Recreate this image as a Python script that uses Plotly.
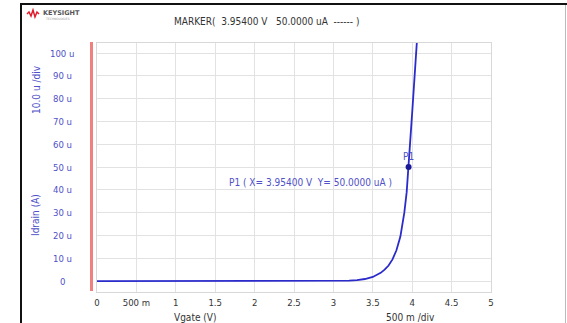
import plotly.graph_objects as go

# ---- data ----
vgate = [0, 0.5, 1.0, 1.5, 2.0, 2.5, 3.0, 3.1, 3.2, 3.3, 3.4, 3.5, 3.6, 3.65, 3.7,
         3.75, 3.8, 3.85, 3.9, 3.93, 3.954, 4.0, 4.05, 4.1]
idrain_u = [0, 0, 0, 0, 0, 0, 0, 0.05, 0.15, 0.4, 0.9, 1.8, 3.6, 5.0, 6.8,
            9.5, 13.5, 19.5, 30, 39, 50, 74, 100, 126]
marker_x = [3.954]
marker_y = [50]
x_ticks = [0, 0.5, 1, 1.5, 2, 2.5, 3, 3.5, 4, 4.5, 5]
x_tick_labels = ["0", "500 m", "1", "1.5", "2", "2.5", "3", "3.5", "4", "4.5", "5"]
y_ticks = [0, 10, 20, 30, 40, 50, 60, 70, 80, 90, 100]
y_tick_labels = ["0", "10 u", "20 u", "30 u", "40 u", "50 u", "60 u", "70 u", "80 u", "90 u", "100 u"]

W, H = 567, 323
ML, MR, MT, MB = 97, 76, 43, 31
PW, PH = W - ML - MR, H - MT - MB


def px(x):
    return (x - ML) / PW


def py(y):
    return (H - MB - y) / PH


FONT = "Liberation Sans Narrow, Arial Narrow, DejaVu Sans Condensed, sans-serif"
BLUE = "#5050c8"
LINE = "#2b2bcc"
GRAY = "#333333"

fig = go.Figure()
fig.add_trace(go.Scatter(x=vgate, y=idrain_u, mode="lines",
                         line=dict(color=LINE, width=1.8), hoverinfo="skip",
                         showlegend=False))
fig.add_trace(go.Scatter(x=marker_x, y=marker_y, mode="markers",
                         marker=dict(color="#1a1a99", size=6), showlegend=False))

fig.update_layout(
    width=W, height=H,
    margin=dict(l=ML, r=MR, t=MT, b=MB),
    paper_bgcolor="white", plot_bgcolor="white",
    font=dict(family=FONT, size=10, color=GRAY),
    xaxis=dict(range=[0, 5], tickvals=x_ticks, ticktext=x_tick_labels,
               showgrid=True, gridcolor="#e2e2e2", gridwidth=1,
               zeroline=False, showline=True, linecolor="#d8d8d8", mirror=True,
               ticks="", tickfont=dict(family=FONT, size=9.5, color=GRAY),
               ticklabelstandoff=2),
    yaxis=dict(range=[-4.8, 104.4], tickvals=y_ticks, showticklabels=False,
               showgrid=True, gridcolor="#e2e2e2", gridwidth=1,
               zeroline=False, showline=True, linecolor="#d8d8d8", mirror=True,
               ticks=""),
)

shapes = [
    # red vertical bar left of plot
    dict(type="line", xref="paper", yref="paper", x0=px(91.5), x1=px(91.5),
         y0=py(291), y1=py(42), line=dict(color="#f08080", width=3)),
    # outer frame
    dict(type="line", xref="paper", yref="paper", x0=px(20), x1=px(567),
         y0=py(4), y1=py(4), line=dict(color="#111111", width=2)),
    dict(type="line", xref="paper", yref="paper", x0=px(21), x1=px(21),
         y0=py(4), y1=py(323), line=dict(color="#111111", width=2)),
    dict(type="line", xref="paper", yref="paper", x0=px(565.5), x1=px(565.5),
         y0=py(5), y1=py(323), line=dict(color="#bbbbbb", width=1)),
    # logo zigzag
    dict(type="path", xref="paper", yref="paper",
         path=(f"M {px(27)},{py(14)} L {px(29)},{py(12)} L {px(31)},{py(16)} "
               f"L {px(33)},{py(10)} L {px(35)},{py(17)} L {px(37)},{py(12)} L {px(39)},{py(14)}"),
         line=dict(color="#e01b2b", width=1.5)),
]
fig.update_layout(shapes=shapes)

ann = [
    dict(x=px(41), y=py(12.5), text="<b>KEYSIGHT</b>", font=dict(size=6.5, color="#555555", family="DejaVu Sans"),
         xanchor="left", yanchor="middle"),
    dict(x=px(43), y=py(18.5), text="TECHNOLOGIES", font=dict(size=3, color="#999999", family="DejaVu Sans"),
         xanchor="left", yanchor="middle"),
    dict(x=px(266), y=py(21), text="MARKER(  3.95400 V   50.0000 uA  ------ )",
         font=dict(size=10, color=GRAY, family=FONT), xanchor="center", yanchor="middle"),
    dict(x=px(36), y=py(90), text="10.0 u /div", textangle=-90,
         font=dict(size=10, color=BLUE, family=FONT), xanchor="center", yanchor="middle"),
    dict(x=px(36), y=py(215), text="Idrain (A)", textangle=-90,
         font=dict(size=10, color=BLUE, family=FONT), xanchor="center", yanchor="middle"),
    dict(x=px(195), y=py(317), text="Vgate (V)",
         font=dict(size=10, color=GRAY, family=FONT), xanchor="center", yanchor="middle"),
    dict(x=px(410), y=py(317), text="500 m /div",
         font=dict(size=10, color=GRAY, family=FONT), xanchor="center", yanchor="middle"),
    dict(x=marker_x[0], y=marker_y[0], xref="x", yref="y", text="P1",
         font=dict(size=10, color=BLUE, family=FONT), showarrow=False,
         xanchor="center", yanchor="bottom", yshift=3),
    dict(x=px(310), y=py(182), text="P1 ( X= 3.95400 V  Y= 50.0000 uA )",
         font=dict(size=10, color=BLUE, family=FONT), xanchor="center", yanchor="middle"),
]
# centred y tick labels, as in the instrument display
for v, t in zip(y_ticks, y_tick_labels):
    ann.append(dict(x=px(62), y=v, yref="y", text=t,
                    font=dict(size=9.5, color=BLUE, family=FONT),
                    xanchor="center", yanchor="middle"))
for a in ann:
    a.setdefault("xref", "paper")
    a.setdefault("yref", "paper")
    a.setdefault("showarrow", False)
fig.update_layout(annotations=ann)

fig.write_html("out.html", config={"displayModeBar": False},
               post_script="document.body.style.margin='0';document.body.style.overflow='hidden';")
